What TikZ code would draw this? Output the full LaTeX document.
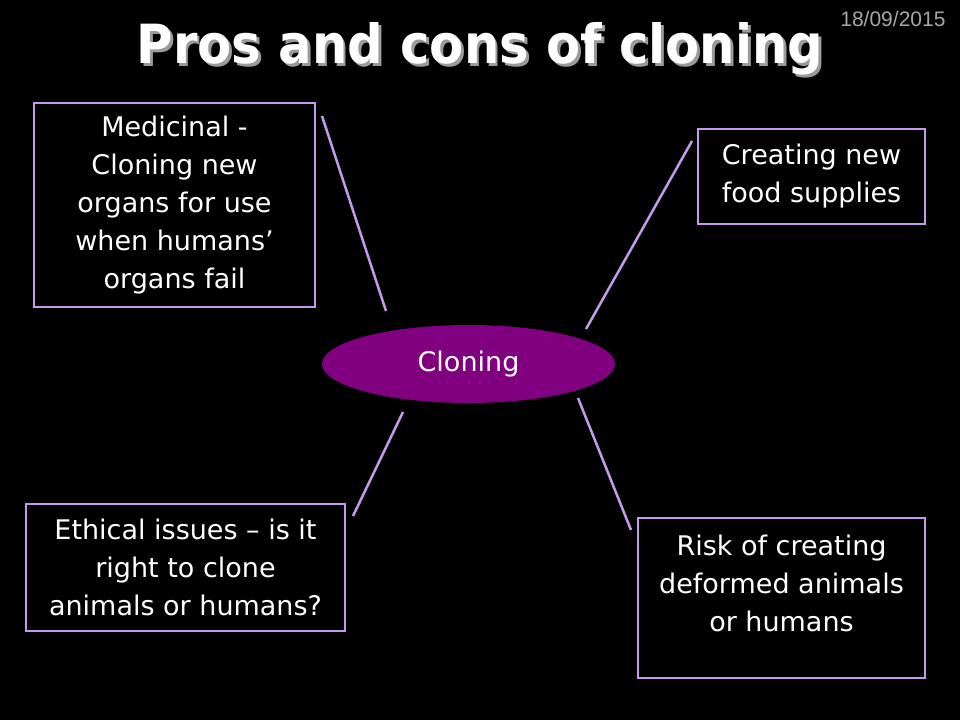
\documentclass[tikz,border=0pt]{standalone}
\usepackage{fontspec}
\setmainfont{DejaVu Sans}
\newfontfamily\datefont{Liberation Sans}
\usetikzlibrary{shapes.geometric}
\definecolor{lav}{HTML}{C39BEA}
\definecolor{plum}{HTML}{800080}
\definecolor{dategray}{HTML}{A6A6A6}
\definecolor{shadowgray}{HTML}{9A9A9A}
\newcommand{\shadowtext}[1]{\makebox[0pt][l]{\hspace{3pt}\raisebox{-3pt}{\textcolor{shadowgray}{#1}}}#1}
\begin{document}
\begin{tikzpicture}[x=1pt,y=-1pt,
  box/.style={draw=lav, line width=2.5pt, text=white, align=center, inner sep=0pt,
     font=\fontsize{27}{38}\selectfont},
  conn/.style={draw=lav, line width=2.5pt}]
\fill[black] (0,0) rectangle (960,720);
\useasboundingbox (0,0) rectangle (960,720);
% title
\node[text=white, font=\bfseries\fontsize{54}{60}\selectfont, xscale=0.92] (title) at (480,50)
  {\shadowtext{Pros and cons of cloning}};
\node[text=dategray, font=\datefont\fontsize{21}{22}\selectfont, anchor=east] (date) at (949,19) {18/09/2015};
% centre
\node[ellipse, fill=plum, minimum width=293pt, minimum height=78pt, text=white,
  font=\fontsize{27}{30}\selectfont] (c) at (468.5,364) {Cloning};
% boxes
\node[box, minimum width=281pt, minimum height=204pt] (b1) at (174.5,205)
  {Medicinal -\\Cloning new\\organs for use\\when humans’\\organs fail};
\node[box, minimum width=227pt, minimum height=95pt] (b2) at (811.5,176.5)
  {Creating new\\food supplies};
\node[box, minimum width=319pt, minimum height=127pt] (b3) at (185.5,567.5)
  {Ethical issues – is it\\right to clone\\animals or humans?};
\node[box, minimum width=287pt, minimum height=160pt] (b4) at (781.5,598)
  {\parbox[c][140pt][t]{285pt}{\centering\fontsize{27}{38}\selectfont\vspace*{7pt}Risk of creating\\deformed animals\\or humans}};
% connector ends
\coordinate (a1) at (322,116); \coordinate (c1) at (386,311);
\coordinate (a2) at (692,141); \coordinate (c2) at (586,329);
\coordinate (a3) at (353,516); \coordinate (c3) at (403,412);
\coordinate (a4) at (631,530); \coordinate (c4) at (578,398);
\draw[conn] (a1) -- (c1);
\draw[conn] (a2) -- (c2);
\draw[conn] (a3) -- (c3);
\draw[conn] (a4) -- (c4);
\end{tikzpicture}
\end{document}
